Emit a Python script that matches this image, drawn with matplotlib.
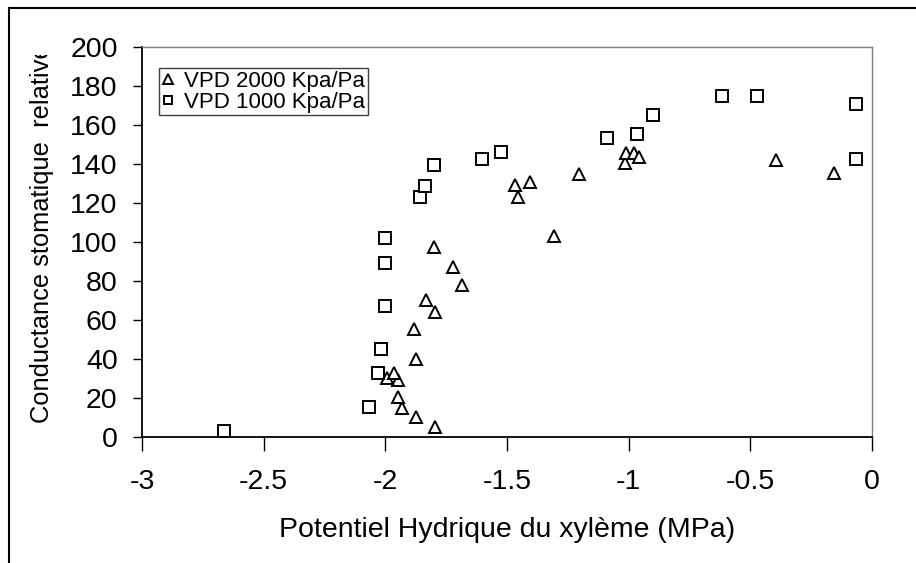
import matplotlib
matplotlib.use("Agg")
import matplotlib.pyplot as plt
from matplotlib.lines import Line2D
from matplotlib.transforms import Bbox, TransformedBbox, IdentityTransform

plt.rcParams["font.family"] = ["Liberation Sans", "DejaVu Sans"]

# VPD 2000 Kpa/Pa (triangles)
psi_2000 = [-1.796, -1.872, -1.932, -1.947, -1.950, -1.993, -1.965, -1.872,
            -1.883, -1.796, -1.833, -1.684, -1.721, -1.802, -1.305, -1.453,
            -1.467, -1.405, -1.206, -1.014, -1.011, -0.977, -0.959, -0.394,
            -0.156]
gs_2000 = [5, 10.3, 15, 20.5, 29, 30.5, 33, 40,
           55.5, 64, 70.3, 78, 87.3, 97.5, 103, 123,
           129.2, 131, 134.7, 140.7, 145.5, 145.5, 143.7, 142.2,
           135.5]

# VPD 1000 Kpa/Pa (squares)
psi_1000 = [-2.664, -2.066, -2.029, -2.017, -2.003, -2.003, -2.003, -1.856,
            -1.836, -1.798, -1.602, -1.526, -1.091, -0.965, -0.902, -0.618,
            -0.474, -0.065, -0.065]
gs_1000 = [3.2, 15.5, 32.8, 45, 67, 89, 102, 123.2,
           128.9, 139.5, 142.6, 146.3, 153.5, 155.5, 165, 175,
           175, 171, 142.5]

x_ticks = [-3, -2.5, -2, -1.5, -1, -0.5, 0]
x_ticklabels = ["-3", "-2.5", "-2", "-1.5", "-1", "-0.5", "0"]
y_ticks = list(range(0, 201, 20))

W, H = 916, 563
fig = plt.figure(figsize=(W / 100, H / 100), dpi=100)
ax = fig.add_axes([142 / W, 1 - 437 / H, (872 - 142) / W, (437 - 47) / H])

ax.plot(psi_2000, gs_2000, "^", ms=9, mfc="white", mec="black", mew=1.4,
        ls="none", label="VPD 2000 Kpa/Pa", clip_on=False)
ax.plot(psi_1000, gs_1000, "s", ms=8.5, mfc="white", mec="black", mew=1.4,
        ls="none", label="VPD 1000 Kpa/Pa", clip_on=False)

ax.set_xlim(-3, 0)
ax.set_ylim(0, 200)
ax.set_xticks(x_ticks)
ax.set_xticklabels(x_ticklabels)
ax.set_yticks(y_ticks)
ax.tick_params(axis="x", direction="out", length=10, width=1, pad=13, labelsize=20.5)
ax.tick_params(axis="y", direction="out", length=6.5, width=1, pad=11, labelsize=20.5)

for s in ("left", "bottom"):
    ax.spines[s].set_color("black")
    ax.spines[s].set_linewidth(1.3)
for s in ("top", "right"):
    ax.spines[s].set_color("#7f7f7f")
    ax.spines[s].set_linewidth(1)

ax.set_xlabel("Potentiel Hydrique du xylème (MPa)", fontsize=20.5, labelpad=16)

# y label is cut off at the top, like the original sheet
ylab = fig.text(42 / W, 1 - 423 / H, "Conductance stomatique  relative",
                rotation=90, ha="center", va="bottom", fontsize=18.4)
ylab.set_clip_box(TransformedBbox(Bbox([[0, 0], [W, H - 55]]), IdentityTransform()))
ylab.set_clip_on(True)

leg = ax.legend(loc="upper left", bbox_to_anchor=(159 / W, 1 - 68 / H),
                bbox_transform=fig.transFigure, fontsize=16, frameon=True,
                fancybox=False, edgecolor="#404040", framealpha=1,
                handlelength=0.6, handletextpad=0.4, borderpad=0.12,
                labelspacing=0.0, borderaxespad=0, markerscale=0.75)
leg.get_frame().set_linewidth(1)

# outer frame of the chart area
fig.add_artist(Line2D([9 / W, 9 / W], [0, 1 - 8 / H], color="black", lw=1.5))
fig.add_artist(Line2D([9 / W, 1], [1 - 8 / H, 1 - 8 / H], color="black", lw=1.5))

fig.savefig("out.png", dpi=100)
